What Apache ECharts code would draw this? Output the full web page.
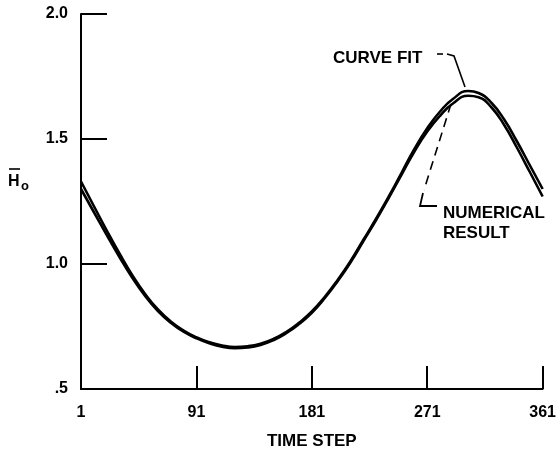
<!DOCTYPE html>
<html>
<head>
<meta charset="utf-8">
<script src="https://cdn.jsdelivr.net/npm/echarts@6/dist/echarts.min.js"></script>
<style>
  html, body { margin: 0; padding: 0; background: #fff; }
  #chart { width: 559px; height: 455px; }
</style>
</head>
<body>
<div id="chart"></div>
<script>
// Time steps sampled along the cycle
const timeSteps = [1, 11, 21, 31, 41, 51, 61, 71, 81, 91, 101, 111, 121, 131, 141, 151, 161, 171, 181,
  191, 201, 211, 221, 231, 241, 251, 261, 271, 281, 291, 303, 311, 321, 331, 341, 351, 361];

// Fitted curve
const curveFit = [1.33, 1.232, 1.135, 1.042, 0.955, 0.88, 0.818, 0.77, 0.734, 0.707, 0.687, 0.674, 0.668,
  0.671, 0.681, 0.70, 0.728, 0.765, 0.81, 0.868, 0.935, 1.01, 1.095, 1.18, 1.27, 1.365, 1.46, 1.543, 1.61,
  1.66, 1.692, 1.684, 1.645, 1.578, 1.49, 1.395, 1.30];

// Numerical result
const numerical = [1.30, 1.208, 1.117, 1.028, 0.945, 0.872, 0.812, 0.765, 0.729, 0.703, 0.683, 0.669, 0.663,
  0.666, 0.676, 0.695, 0.723, 0.76, 0.805, 0.863, 0.93, 1.005, 1.09, 1.175, 1.265, 1.358, 1.45, 1.53,
  1.593, 1.642, 1.673, 1.667, 1.627, 1.556, 1.465, 1.368, 1.27];

const xTicks = [1, 91, 181, 271, 361];
const yTicks = [0.5, 1.0, 1.5, 2.0];
const yTickLabels = ['.5', '1.0', '1.5', '2.0'];

const FONT = '"Liberation Sans", Arial, Helvetica, sans-serif';

function pairs(ys) { return timeSteps.map((t, i) => [t, ys[i]]); }

const chart = echarts.init(document.getElementById('chart'), null, { renderer: 'canvas' });

const lineSeries = (name, ys) => ({
  name, type: 'line', data: pairs(ys), smooth: true, showSymbol: false, symbol: 'none',
  lineStyle: { color: '#000', width: 2.6 }, z: 3, silent: true
});

chart.setOption({
  animation: false,
  backgroundColor: '#fff',
  grid: { left: 81, top: 14, right: 15, bottom: 63 },
  xAxis: {
    type: 'value', min: 1, max: 361,
    name: 'TIME STEP', nameLocation: 'middle', nameGap: 44,
    nameTextStyle: { color: '#000', fontFamily: FONT, fontSize: 17, fontWeight: 'bold' },
    axisLine: { show: true, lineStyle: { color: '#000', width: 2 } },
    axisTick: { show: true, inside: true, length: 23, customValues: xTicks, lineStyle: { color: '#000', width: 2 } },
    axisLabel: { customValues: xTicks, color: '#000', fontFamily: FONT, fontSize: 16, fontWeight: 'bold', margin: 16 },
    splitLine: { show: false }
  },
  yAxis: {
    type: 'value', min: 0.5, max: 2.0, interval: 0.5,
    axisLine: { show: true, lineStyle: { color: '#000', width: 2 } },
    axisTick: { show: true, inside: true, length: 26, lineStyle: { color: '#000', width: 2 } },
    axisLabel: {
      color: '#000', fontFamily: FONT, fontSize: 16, fontWeight: 'bold', margin: 13,
      formatter: v => { const i = yTicks.findIndex(t => Math.abs(t - v) < 1e-6); return i >= 0 ? yTickLabels[i] : ''; }
    },
    splitLine: { show: false }
  },
  series: [lineSeries('CURVE FIT', curveFit), lineSeries('NUMERICAL RESULT', numerical)],
  graphic: [
    // y-axis symbol: H with overbar, subscript o
    { type: 'text', x: 8, y: 182, style: { text: 'H', font: 'bold 16px ' + FONT, fill: '#000', align: 'left', verticalAlign: 'middle' } },
    { type: 'line', shape: { x1: 9, y1: 169, x2: 20, y2: 169 }, style: { stroke: '#000', lineWidth: 1.6 } },
    { type: 'text', x: 21, y: 186, style: { text: 'o', font: 'bold 13px ' + FONT, fill: '#000', align: 'left', verticalAlign: 'middle' } },
    // curve fit annotation
    { type: 'text', x: 333, y: 58, style: { text: 'CURVE FIT', font: 'bold 17px ' + FONT, fill: '#000', align: 'left', verticalAlign: 'middle' } },
    { type: 'polyline', shape: { points: [[437, 54], [443, 54]] }, style: { stroke: '#000', lineWidth: 1.6, fill: null } },
    { type: 'polyline', shape: { points: [[447, 54], [454, 56], [465, 87]] }, style: { stroke: '#000', lineWidth: 1.6, fill: null } },
    // numerical result annotation
    { type: 'polyline', shape: { points: [[451, 104], [424, 190]] }, style: { stroke: '#000', lineWidth: 1.6, fill: null, lineDash: [9, 6] } },
    { type: 'polyline', shape: { points: [[423, 193], [420, 206], [437, 206]] }, style: { stroke: '#000', lineWidth: 1.8, fill: null } },
    { type: 'text', x: 443, y: 213, style: { text: 'NUMERICAL', font: 'bold 17px ' + FONT, fill: '#000', align: 'left', verticalAlign: 'middle' } },
    { type: 'text', x: 443, y: 233, style: { text: 'RESULT', font: 'bold 17px ' + FONT, fill: '#000', align: 'left', verticalAlign: 'middle' } }
  ]
});
</script>
</body>
</html>
